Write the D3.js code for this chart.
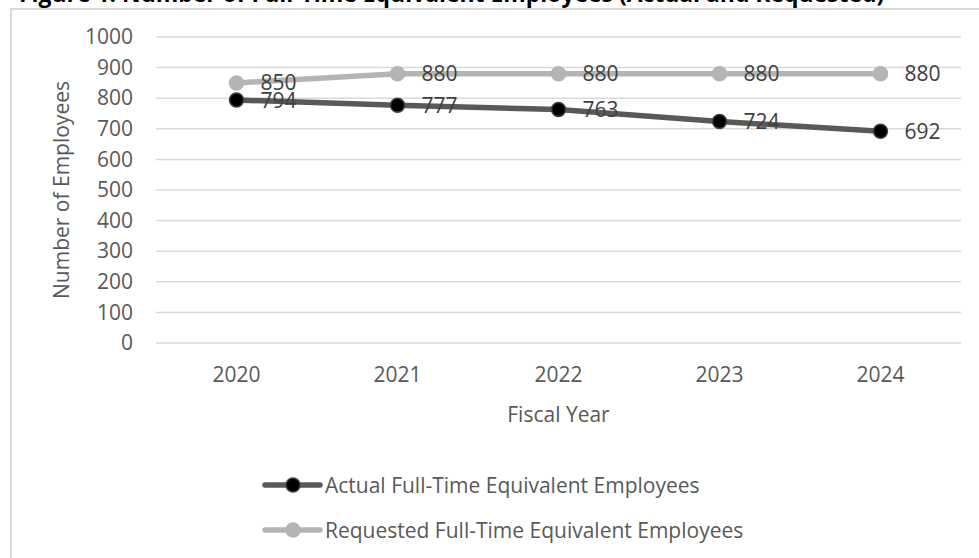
<!DOCTYPE html>
<html>
<head>
<meta charset="utf-8">
<script src="https://cdn.jsdelivr.net/npm/d3@7"></script>
<style>
  body { margin: 0; background: #fff; }
  svg { display: block; font-family: "Open Sans", sans-serif; }
</style>
</head>
<body>
<svg id="chart"></svg>
<script>
// Data
const years = ["2020", "2021", "2022", "2023", "2024"];
const actual = [794, 777, 763, 724, 692];
const requested = [850, 880, 880, 880, 880];
const yTicks = [0, 100, 200, 300, 400, 500, 600, 700, 800, 900, 1000];

const title = "Figure 1: Number of Full-Time Equivalent Employees (Actual and Requested)";
const seriesNames = ["Actual Full-Time Equivalent Employees", "Requested Full-Time Equivalent Employees"];

const W = 979, H = 558;
const plot = { left: 156, right: 961, top: 37, bottom: 343 };
const fs = 21;

const svg = d3.select("#chart").attr("width", W).attr("height", H);

// cut-off title at the very top
const t = svg.append("text")
    .attr("x", 19)
    .attr("y", 1.5)
    .attr("font-weight", "bold")
    .attr("font-size", 20)
    .attr("fill", "#000")
    .text(title);
const tw = t.node().getComputedTextLength();
t.attr("font-size", 20 * 866 / tw);

// chart frame (left + top edges, the rest runs off the picture)
svg.append("path")
    .attr("d", `M11,${H} V9 H${W}`)
    .attr("fill", "none")
    .attr("stroke", "#d9d9d9")
    .attr("stroke-width", 2);

// Scales
const x = d3.scaleBand()
    .domain(years)
    .range([plot.left, plot.right]);

const y = d3.scaleLinear()
    .domain([0, 1000])
    .range([plot.bottom, plot.top]);

const cx = d => x(d) + x.bandwidth() / 2;

// gridlines
svg.append("g")
    .selectAll("line")
    .data(yTicks)
    .enter()
    .append("line")
    .attr("x1", plot.left)
    .attr("x2", plot.right)
    .attr("y1", d => y(d))
    .attr("y2", d => y(d))
    .attr("stroke", "#d9d9d9")
    .attr("stroke-width", 1.5);

// y axis labels
const yAxis = d3.axisLeft(y).tickValues(yTicks).tickFormat(d3.format("d")).tickSize(0).tickPadding(0);
const gy = svg.append("g")
    .attr("transform", "translate(133,0)")
    .call(yAxis);
gy.select(".domain").remove();
gy.selectAll("text")
    .attr("font-family", "Open Sans")
    .attr("font-size", fs)
    .attr("fill", "#595959");

// x axis labels
const xAxis = d3.axisBottom(x).tickSize(0).tickPadding(0);
const gx = svg.append("g")
    .attr("transform", `translate(0,${plot.bottom})`)
    .call(xAxis);
gx.select(".domain").remove();
gx.selectAll("text")
    .attr("dy", null)
    .attr("y", 39)
    .attr("font-family", "Open Sans")
    .attr("font-size", fs)
    .attr("fill", "#595959");

// axis titles
svg.append("text")
    .attr("transform", `translate(69,${(plot.top + plot.bottom) / 2}) rotate(-90)`)
    .attr("text-anchor", "middle")
    .attr("font-size", fs)
    .attr("fill", "#595959")
    .text("Number of Employees");

svg.append("text")
    .attr("x", (plot.left + plot.right) / 2)
    .attr("y", 422)
    .attr("text-anchor", "middle")
    .attr("font-size", fs)
    .attr("fill", "#595959")
    .text("Fiscal Year");

// Lines
const series = [
    { name: seriesNames[1], values: requested, line: "#b4b4b4", fill: "#b4b4b4", stroke: "#b4b4b4" },
    { name: seriesNames[0], values: actual, line: "#595959", fill: "#000", stroke: "#404040" }
];

const line = d3.line()
    .x((d, i) => cx(years[i]))
    .y(d => y(d));

series.forEach(s => {
    svg.append("path")
        .datum(s.values)
        .attr("fill", "none")
        .attr("stroke", s.line)
        .attr("stroke-width", 5.5)
        .attr("stroke-linejoin", "round")
        .attr("d", line);

    svg.append("g")
        .selectAll("circle")
        .data(s.values)
        .enter()
        .append("circle")
        .attr("cx", (d, i) => cx(years[i]))
        .attr("cy", d => y(d))
        .attr("r", 7)
        .attr("fill", s.fill)
        .attr("stroke", s.stroke)
        .attr("stroke-width", 1.5);

    svg.append("g")
        .selectAll("text")
        .data(s.values)
        .enter()
        .append("text")
        .attr("x", (d, i) => cx(years[i]) + 24)
        .attr("y", d => y(d))
        .attr("dy", "0.36em")
        .attr("font-size", fs)
        .attr("fill", "#404040")
        .text(d => d);
});

// Legend
const legend = svg.append("g");
[series[1], series[0]].forEach((s, i) => {
    const ly = 485 + i * 45;
    legend.append("line")
        .attr("x1", 265).attr("x2", 320)
        .attr("y1", ly).attr("y2", ly)
        .attr("stroke", s.line)
        .attr("stroke-width", 5.5)
        .attr("stroke-linecap", "round");
    legend.append("circle")
        .attr("cx", 293).attr("cy", ly)
        .attr("r", 7)
        .attr("fill", s.fill)
        .attr("stroke", s.stroke)
        .attr("stroke-width", 1.5);
    legend.append("text")
        .attr("x", 325)
        .attr("y", ly)
        .attr("dy", "0.36em")
        .attr("font-size", fs)
        .attr("fill", "#595959")
        .text(s.name);
});
</script>
</body>
</html>
